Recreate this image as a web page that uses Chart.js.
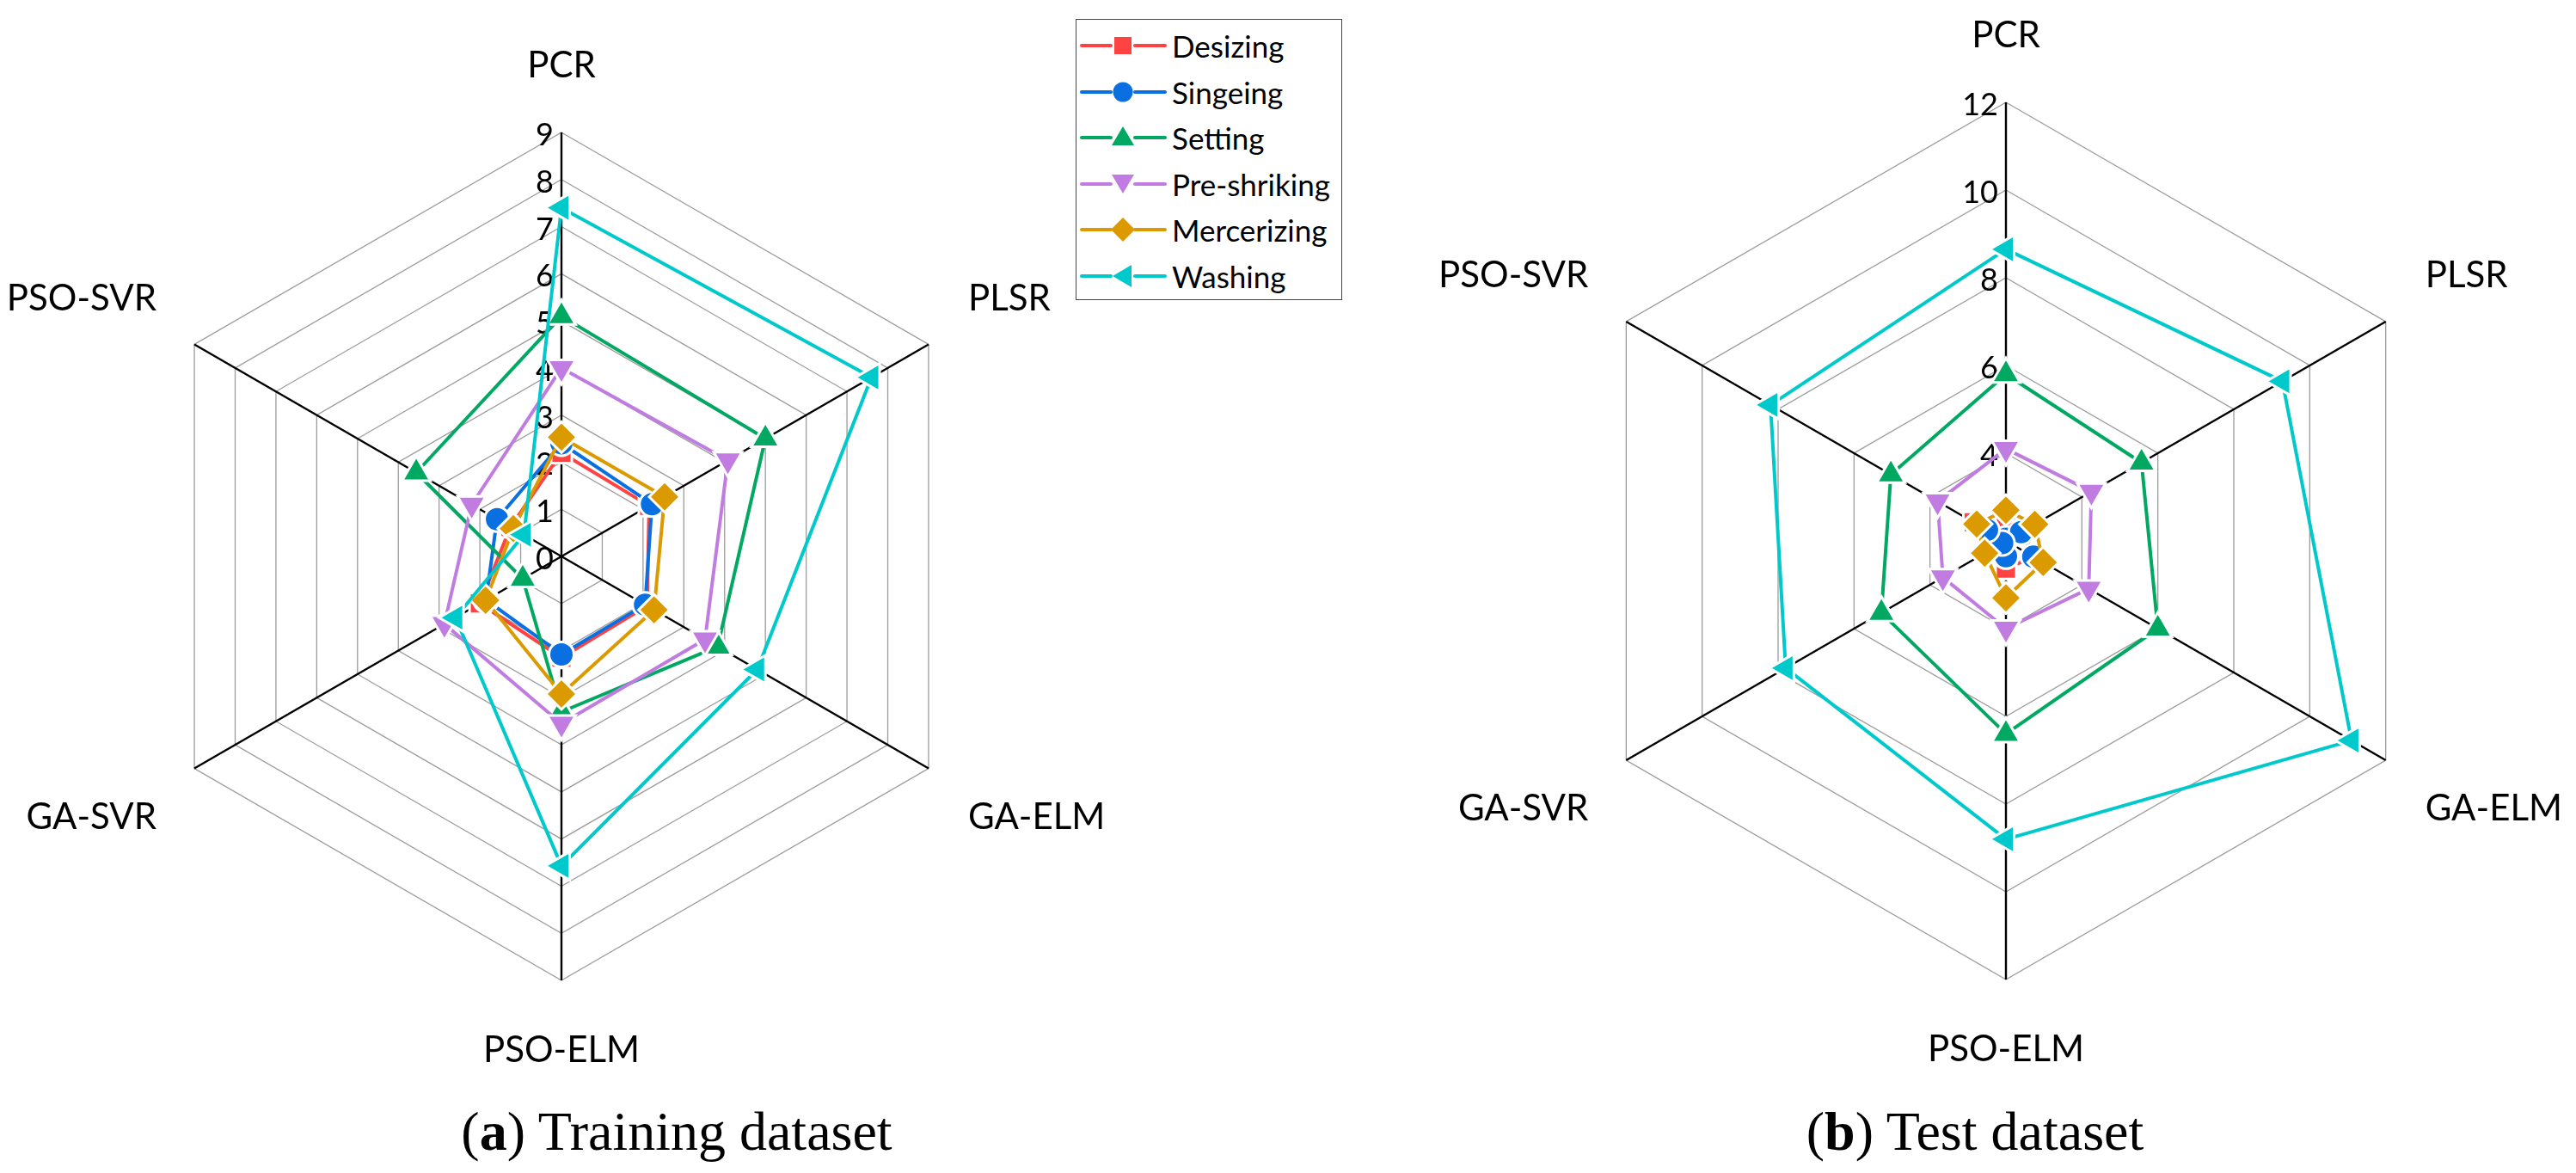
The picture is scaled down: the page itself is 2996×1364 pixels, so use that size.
<!DOCTYPE html>
<html>
<head>
<meta charset="utf-8">
<script src="https://cdn.jsdelivr.net/npm/chart.js@4.4.1/dist/chart.umd.min.js"></script>
<style>
html,body{margin:0;padding:0;background:#fff;}
body{width:2996px;height:1364px;position:relative;overflow:hidden;font-family:Lato,'Noto Sans',sans-serif;}
canvas{position:absolute;top:0;}
#c1{left:0;}
#c2{left:1560px;}
#legend{position:absolute;left:1251px;top:22px;width:310px;height:327px;border:1.5px solid #444;box-sizing:border-box;background:#fff;}
.item{position:absolute;left:0;width:305px;height:40px;}
.item svg{position:absolute;left:0;top:0;}
.item span{position:absolute;left:111px;top:0;height:40px;line-height:40px;font-size:35px;color:#000;white-space:nowrap;}
.caption{position:absolute;width:800px;text-align:center;font-family:'Liberation Serif','DejaVu Serif',serif;font-size:64px;line-height:60px;color:#000;}
</style>
</head>
<body>
<canvas id="c1" width="1540" height="1364" style="width:1540px;height:1364px"></canvas>
<canvas id="c2" width="1436" height="1364" style="width:1436px;height:1364px"></canvas>
<div id="legend"></div>
<div class="caption" style="left:387px;top:1286px;">(<b>a</b>) Training dataset</div>
<div class="caption" style="left:1897px;top:1286px;">(<b>b</b>) Test dataset</div>
<script>
// ---------------- data ----------------
const categories = ['PCR', 'PLSR', 'GA-ELM', 'PSO-ELM', 'GA-SVR', 'PSO-SVR'];
const seriesNames = ['Desizing', 'Singeing', 'Setting', 'Pre-shriking', 'Mercerizing', 'Washing'];

// Training dataset (a)
const trainDesizing    = [2.2, 2.15, 2.1, 2.15, 2.0, 1.25];
const trainSingeing    = [2.4, 2.22, 2.05, 2.08, 1.85, 1.58];
const trainSetting     = [5.1, 5.0, 3.83, 3.3, 0.95, 3.56];
const trainPreshriking = [4.0, 4.08, 3.52, 3.55, 2.87, 2.2];
const trainMercerizing = [2.53, 2.53, 2.27, 2.92, 1.86, 1.18];
const trainWashing     = [7.4, 7.6, 4.8, 6.57, 2.6, 0.92];
const trainTicks = [0, 1, 2, 3, 4, 5, 6, 7, 8, 9];

// Test dataset (b)
const testDesizing    = [2.43, 2.45, 2.73, 2.63, 2.3, 2.85];
const testSingeing    = [2.05, 2.4, 2.72, 2.35, 2.1, 2.5];
const testSetting     = [5.8, 5.57, 6.0, 6.4, 5.28, 5.03];
const testPreshriking = [4.1, 4.25, 4.18, 4.0, 3.66, 3.8];
const testMercerizing = [2.7, 2.76, 2.98, 3.3, 2.56, 2.77];
const testWashing     = [8.65, 9.28, 11.1, 8.8, 7.8, 8.2];
const testTicks = [2, 4, 6, 8, 10, 12];

// ---------------- styles ----------------
const colors = ['#FF4242', '#0A6FE0', '#00A862', '#C07CE0', '#DB9A00', '#00C9CB'];
const pointStyles = ['rect', 'circle', 'triangle', 'triangle', 'rectRot', 'triangle'];
const rotations = [0, 0, 0, 180, 0, -90];
const radii = [17, 14.5, 19, 19, 18, 19];

function makeDatasets(values) {
  return seriesNames.map((name, i) => ({
    label: name,
    data: values[i],
    borderColor: colors[i],
    backgroundColor: colors[i],
    pointBackgroundColor: colors[i],
    pointBorderColor: '#ffffff',
    pointBorderWidth: 3,
    pointStyle: pointStyles[i],
    pointRotation: rotations[i],
    pointRadius: radii[i],
    pointHoverRadius: radii[i],
    borderWidth: 4,
    fill: false,
    order: seriesNames.length - 1 - i
  }));
}

const radarText = {
  id: 'radarText',
  beforeDatasetsDraw(chart, args, opts) {
    const s = chart.scales.r;
    const ctx = chart.ctx;
    ctx.save();
    ctx.fillStyle = '#000';
    // tick labels
    ctx.font = '36px Lato';
    ctx.textAlign = 'right';
    ctx.textBaseline = 'alphabetic';
    (opts.ticks || []).forEach(v => {
      const d = s.getDistanceFromCenterForValue(v);
      ctx.fillText(String(v), s.xCenter - 9, s.yCenter - d + 15);
    });
    // axis (point) labels
    ctx.font = '42px Lato';
    const r = s.drawingArea;
    chart.data.labels.forEach((lab, i) => {
      const p = s.getPointPosition(i, r);
      const a = s.getIndexAngle(i) - Math.PI / 2;
      const c = Math.cos(a), sn = Math.sin(a);
      let x, y;
      if (Math.abs(c) < 0.01) {
        ctx.textAlign = 'center';
        x = p.x;
        y = p.y + (sn > 0 ? 80 : -79);
      } else {
        ctx.textAlign = c > 0 ? 'left' : 'right';
        x = p.x + (c > 0 ? 46 : -44);
        y = p.y + (sn > 0 ? 55 : -55);
      }
      ctx.fillText(lab, x, y + 15);
    });
    ctx.restore();
  }
};

function makeChart(id, values, ticks, padding) {
  return new Chart(document.getElementById(id), {
    type: 'radar',
    data: { labels: categories, datasets: makeDatasets(values) },
    options: {
      responsive: false,
      animation: false,
      devicePixelRatio: 1,
      layout: { padding: padding },
      events: [],
      plugins: {
        legend: { display: false },
        tooltip: { enabled: false },
        radarText: { ticks: ticks }
      },
      elements: { line: { tension: 0, borderJoinStyle: 'round', borderCapStyle: 'round' } },
      scales: {
        r: {
          min: ticks[0],
          max: ticks[ticks.length - 1],
          ticks: { display: false, stepSize: ticks[1] - ticks[0] },
          grid: { color: '#9c9c9c', lineWidth: 1.3 },
          angleLines: { color: '#000000', lineWidth: 2.4 },
          pointLabels: { display: false }
        }
      }
    },
    plugins: [radarText]
  });
}

makeChart('c1',
  [trainDesizing, trainSingeing, trainSetting, trainPreshriking, trainMercerizing, trainWashing],
  trainTicks, { left: 160, top: 154, right: 394, bottom: 224 });
makeChart('c2',
  [testDesizing, testSingeing, testSetting, testPreshriking, testMercerizing, testWashing],
  testTicks, { left: 263, top: 119, right: 153, bottom: 225 });

// ---------------- legend ----------------
const markerSvg = [
  c => `<rect x="44" y="10" width="20" height="20" fill="${c}"/>`,
  c => `<circle cx="54" cy="20" r="11.5" fill="${c}"/>`,
  c => `<polygon points="54,7 67,29 41,29" fill="${c}"/>`,
  c => `<polygon points="41,9 67,9 54,31" fill="${c}"/>`,
  c => `<polygon points="54,6 68,20 54,34 40,20" fill="${c}"/>`,
  c => `<polygon points="42,20 64,7 64,33" fill="${c}"/>`
];
const legendRows = [30, 84, 137, 191, 244, 298];
const legend = document.getElementById('legend');
seriesNames.forEach((name, i) => {
  const d = document.createElement('div');
  d.className = 'item';
  d.style.top = (legendRows[i] - 20) + 'px';
  const c = colors[i];
  d.innerHTML = `<svg width="110" height="40" viewBox="0 0 110 40">
    <line x1="6" y1="20" x2="40" y2="20" stroke="${c}" stroke-width="4" stroke-linecap="round"/>
    <line x1="68" y1="20" x2="103" y2="20" stroke="${c}" stroke-width="4" stroke-linecap="round"/>
    ${markerSvg[i](c)}</svg><span>${name}</span>`;
  legend.appendChild(d);
});
</script>
</body>
</html>
